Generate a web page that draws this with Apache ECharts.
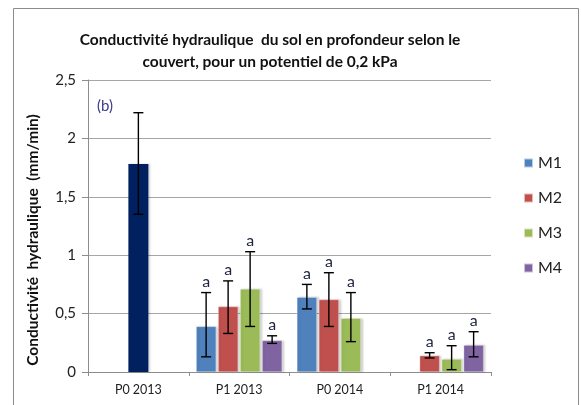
<!DOCTYPE html>
<html>
<head>
<meta charset="utf-8">
<script src="https://cdn.jsdelivr.net/npm/echarts@6/dist/echarts.min.js"></script>
<style>
  html, body { margin: 0; padding: 0; background: #fff; }
  #chart { width: 581px; height: 405px; }
</style>
</head>
<body>
<div id="chart"></div>
<script>
// categories and values
const categories = ["P0 2013", "P1 2013", "P0 2014", "P1 2014"];
const refValues = [1.78, null, null, null];
const refLow = [1.35, null, null, null];
const refHigh = [2.22, null, null, null];

const m1 = [null, 0.39, 0.64, null];
const m1Low = [null, 0.13, 0.54, null];
const m1High = [null, 0.68, 0.75, null];

const m2 = [null, 0.56, 0.62, 0.14];
const m2Low = [null, 0.33, 0.39, 0.12];
const m2High = [null, 0.78, 0.85, 0.165];

const m3 = [null, 0.71, 0.46, 0.11];
const m3Low = [null, 0.39, 0.26, 0.02];
const m3High = [null, 1.03, 0.68, 0.225];

const m4 = [null, 0.27, null, 0.23];
const m4Low = [null, 0.245, null, 0.13];
const m4High = [null, 0.31, null, 0.345];

const sigLetters = ["", "a", "a", "a"];
const yTicks = [0, 0.5, 1, 1.5, 2, 2.5];

const colors = ["#4F81BD", "#C0504D", "#9BBB59", "#8064A2"];
const names = ["M1", "M2", "M3", "M4"];
const vals = [m1, m2, m3, m4];
const lows = [m1Low, m2Low, m3Low, m4Low];
const highs = [m1High, m2High, m3High, m4High];

const BAR_W = 20;
const BAR_STEP = 22;

function errData(lo, hi, withLabel) {
  const out = [];
  lo.forEach((v, i) => {
    if (v == null) return;
    out.push([i, v, hi[i], withLabel ? sigLetters[i] : ""]);
  });
  return out;
}

// error bar + letter drawn at the bar's slot in the group
function errRender(offset) {
  return function (params, api) {
    const i = api.value(0);
    const lo = api.coord([i, api.value(1)]);
    const hi = api.coord([i, api.value(2)]);
    const x = lo[0] + offset;
    const cap = 5;
    const st = { stroke: "#000", lineWidth: 1.4 };
    const kids = [
      { type: "line", shape: { x1: x, y1: lo[1], x2: x, y2: hi[1] }, style: st },
      { type: "line", shape: { x1: x - cap, y1: lo[1], x2: x + cap, y2: lo[1] }, style: st },
      { type: "line", shape: { x1: x - cap, y1: hi[1], x2: x + cap, y2: hi[1] }, style: st },
    ];
    const txt = api.value(3);
    if (txt) {
      kids.push({
        type: "text",
        style: {
          text: txt, x: x, y: hi[1] - 3,
          textAlign: "center", textVerticalAlign: "bottom",
          font: "16px Lato, 'DejaVu Sans', sans-serif", fill: "#1d2340",
        },
      });
    }
    return { type: "group", children: kids };
  };
}

const series = [];
vals.forEach((d, k) => {
  series.push({
    name: names[k],
    type: "bar",
    data: d.map((v) => (v == null ? "-" : v)),
    barWidth: BAR_W,
    barGap: "10%",
    itemStyle: {
      color: colors[k],
      borderColor: "rgba(255,255,255,0.6)",
      borderWidth: 0.5,
      shadowColor: "rgba(0,0,0,0.18)",
      shadowBlur: 2,
      shadowOffsetX: 2,
      shadowOffsetY: 0,
    },
  });
});
vals.forEach((d, k) => {
  series.push({
    name: names[k] + "_err",
    type: "custom",
    renderItem: errRender((k - 1.5) * BAR_STEP),
    data: errData(lows[k], highs[k], true),
    z: 5,
    silent: true,
  });
});
// reference bar (dark) on an overlaid hidden axis so it sits alone in its category
series.push({
  name: "ref",
  type: "bar",
  xAxisIndex: 1,
  data: refValues.map((v) => (v == null ? "-" : v)),
  barWidth: BAR_W,
  itemStyle: {
    color: "#002060",
    shadowColor: "rgba(0,0,0,0.18)",
    shadowBlur: 2,
    shadowOffsetX: 2,
  },
});
series.push({
  name: "ref_err",
  type: "custom",
  xAxisIndex: 1,
  renderItem: errRender(0),
  data: errData(refLow, refHigh, false),
  z: 5,
  silent: true,
});

const chart = echarts.init(document.getElementById("chart"));
chart.setOption({
  animation: false,
  backgroundColor: "#fff",
  title: {
    text: "Conductivité hydraulique  du sol en profondeur selon le\ncouvert, pour un potentiel de 0,2 kPa",
    left: 265,
    top: 24,
    textAlign: "center",
    textStyle: {
      fontFamily: "Lato, 'Open Sans', sans-serif",
      fontWeight: "bold",
      fontSize: 15.5,
      lineHeight: 22,
      color: "#111",
    },
  },
  legend: {
    data: names,
    orient: "vertical",
    left: 518,
    top: 150,
    itemGap: 19,
    itemWidth: 9,
    itemHeight: 9,
    icon: "rect",
    textStyle: { fontSize: 16, color: "#222", fontFamily: "Lato, sans-serif" },
  },
  grid: { left: 88, right: 90, top: 80, bottom: 33 },
  xAxis: [
    {
      type: "category",
      data: categories,
      axisLine: { lineStyle: { color: "#8c8c8c" } },
      axisTick: { show: true, length: 4, lineStyle: { color: "#8c8c8c" } },
      axisLabel: { color: "#222", fontSize: 12.5, margin: 11, fontFamily: "Lato, sans-serif" },
    },
    {
      type: "category",
      data: categories,
      show: false,
    },
  ],
  yAxis: {
    type: "value",
    min: yTicks[0],
    max: yTicks[yTicks.length - 1],
    interval: 0.5,
    axisLine: { show: true, lineStyle: { color: "#8c8c8c" } },
    axisTick: { show: true, length: 6, lineStyle: { color: "#8c8c8c" } },
    axisLabel: {
      color: "#222",
      fontSize: 15,
      margin: 12,
      fontFamily: "Lato, sans-serif",
      formatter: (v) => String(v).replace(".", ","),
    },
    splitLine: { lineStyle: { color: "#a6a6a6", width: 1 } },
  },
  graphic: [
    {
      type: "rect",
      shape: { x: 13.5, y: 8.5, width: 565, height: 410 },
      style: { fill: "none", stroke: "#8c8c8c", lineWidth: 1 },
      silent: true,
    },
    {
      type: "text",
      x: 33,
      y: 240,
      rotation: Math.PI / 2,
      style: {
        text: "Conductivité  hydraulique  (mm/min)",
        font: "bold 15.5px Lato, sans-serif",
        textAlign: "center",
        textVerticalAlign: "middle",
        fill: "#111",
      },
    },
    {
      type: "text",
      x: 97,
      y: 106,
      style: {
        text: "(b)",
        font: "15px Lato, sans-serif",
        textVerticalAlign: "middle",
        fill: "#3b3b8a",
      },
    },
  ],
  series: series,
});
</script>
</body>
</html>
